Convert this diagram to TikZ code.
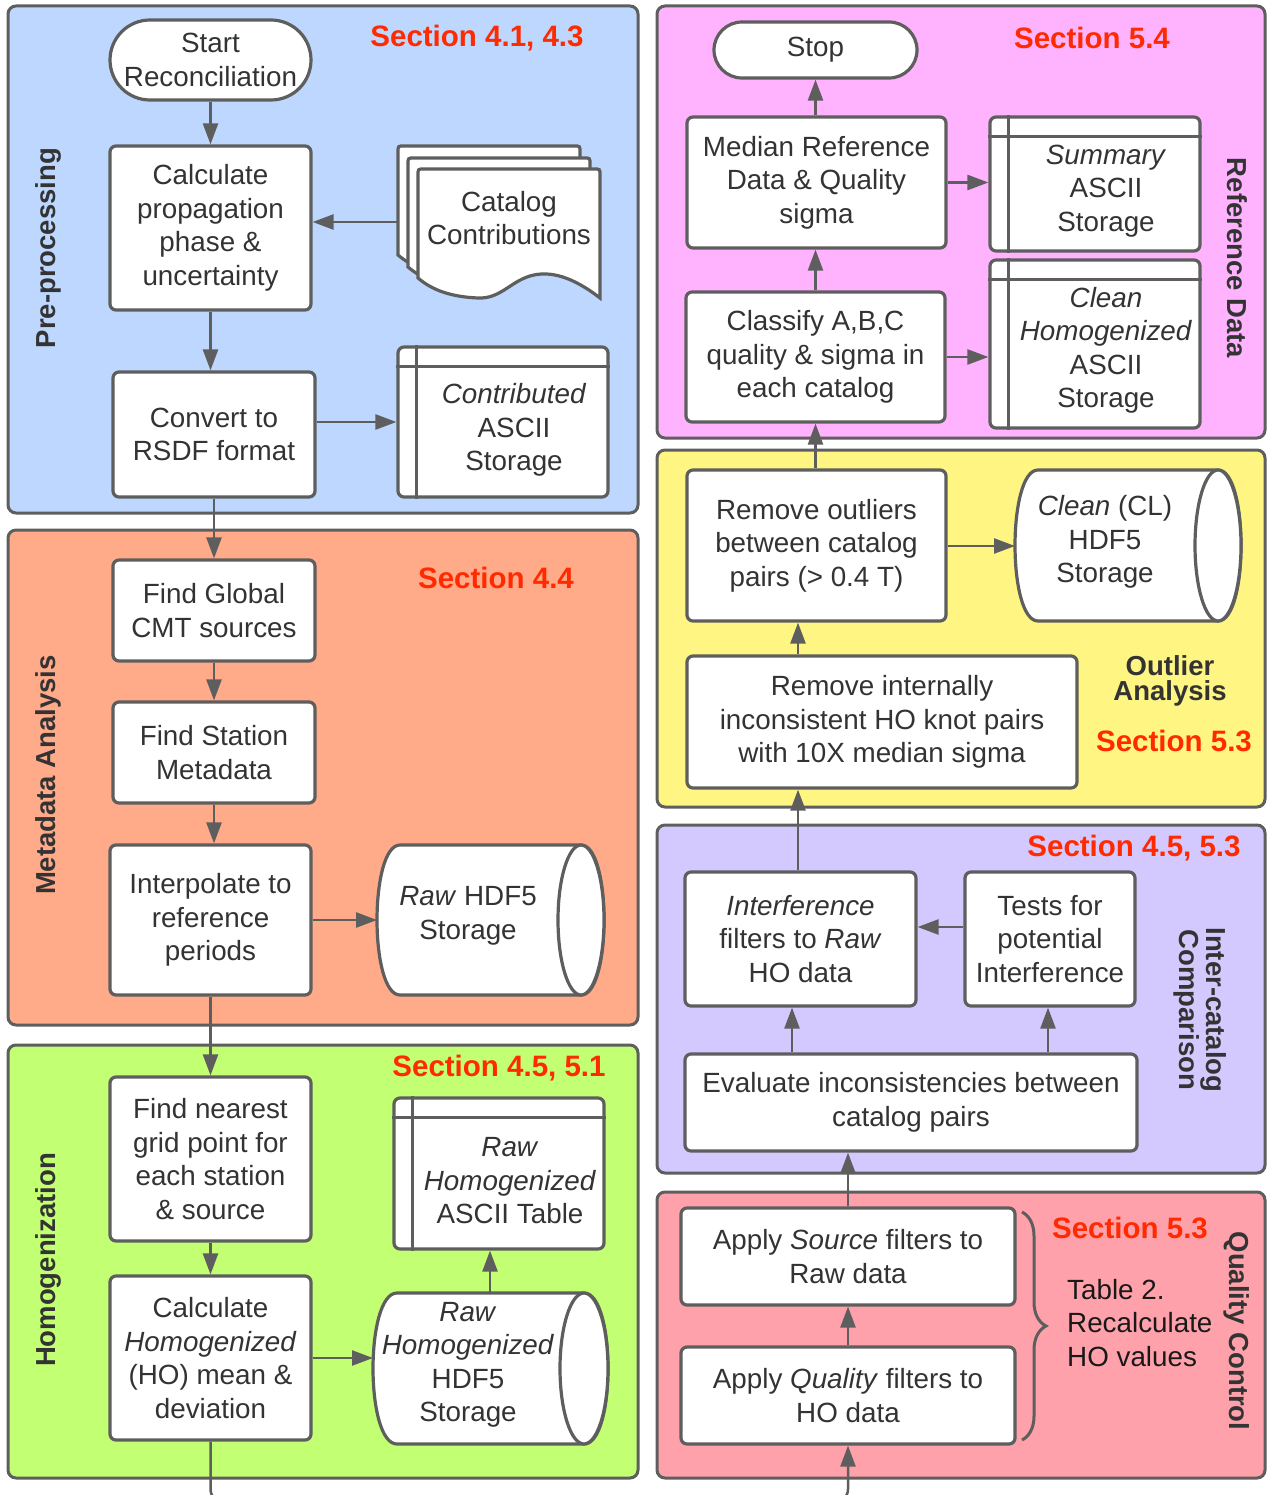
\documentclass[tikz,border=0pt]{standalone}
\usepackage{fontspec}
\setmainfont{Liberation Sans}
\usetikzlibrary{arrows.meta,decorations.pathreplacing}
\definecolor{edge}{HTML}{5E5E5E}
\definecolor{txtc}{HTML}{333333}
\definecolor{secred}{HTML}{FF2A00}
\definecolor{cblue}{HTML}{BDD7FE}
\definecolor{csalmon}{HTML}{FFAA88}
\definecolor{cgreen}{HTML}{C2FF72}
\definecolor{cpink}{HTML}{FFB3FF}
\definecolor{cyellow}{HTML}{FFF582}
\definecolor{clav}{HTML}{D4C9FF}
\definecolor{cqc}{HTML}{FFA1AA}
\newcommand\mainfs{\fontsize{27.8}{33.5}\selectfont}
\newcommand\secfs{\fontsize{29.5}{34}\selectfont\bfseries}
\newcommand\lanefs{\fontsize{27.5}{24.5}\selectfont\bfseries}
\newcommand\catdocshape[2]{%
  \draw[docst] (#1,#2+109) -- (#1,#2+6) .. controls (#1,#2) .. (#1+6,#2)
    -- (#1+176,#2) .. controls (#1+182,#2) .. (#1+182,#2+6) -- (#1+182,#2+129)
    .. controls (#1+155,#2+108) and (#1+132,#2+101) .. (#1+112,#2+107)
    .. controls (#1+92,#2+113) and (#1+82,#2+130) .. (#1+60,#2+129)
    .. controls (#1+35,#2+128) and (#1+15,#2+122) .. (#1,#2+109) -- cycle;}
\newcommand\hcyl[5]{% xl yt xr yb rx
  \draw[docst] (#1+#5,#2) -- (#3-#5,#2)
    .. controls (#3-#5+1.333*#5,#2) and (#3-#5+1.333*#5,#4) .. (#3-#5,#4)
    -- (#1+#5,#4)
    .. controls (#1+#5-1.333*#5,#4) and (#1+#5-1.333*#5,#2) .. (#1+#5,#2) -- cycle;
  \draw[docst] (#3-#5,{(#2+#4)/2}) ellipse [x radius=#5, y radius={(#4-#2)/2}];}
\begin{document}
\begin{tikzpicture}[x=1pt,y=-1pt,
  lane/.style={draw=edge, line width=3pt, rounded corners=8pt},
  proc/.style={draw=edge, line width=3.2pt, fill=white, rounded corners=6pt, align=center,
    text=txtc, font=\mainfs, inner sep=0pt},
  store/.style={draw=edge, line width=3.2pt, fill=white, rounded corners=6pt, inner sep=0pt},
  docst/.style={draw=edge, line width=3.2pt, fill=white},
  txt/.style={align=center, text=txtc, font=\mainfs, inner sep=0pt},
  sec/.style={text=secred, font=\secfs, inner sep=0pt},
  lanelab/.style={text=txtc, font=\lanefs, align=center, inner sep=0pt},
  arr/.style={draw=edge, line width=2.5pt, -{Triangle[length=21pt,width=15pt]}}]
\useasboundingbox (0,0) rectangle (1266,1495);
\fill[white] (0,0) rectangle (1266,1495);

% ---------------- lanes ----------------
\draw[lane, fill=cblue] (8,6) rectangle (638,513);
\draw[lane, fill=csalmon] (8,530) rectangle (638,1025);
\draw[lane, fill=cgreen] (8,1045) rectangle (638,1478);
\draw[lane, fill=cpink] (657,6) rectangle (1265,438);
\draw[lane, fill=cyellow] (657,450) rectangle (1265,807);
\draw[lane, fill=clav] (657,825) rectangle (1265,1173);
\draw[lane, fill=cqc] (657,1192) rectangle (1265,1478);

% helper coordinates
\coordinate (xa) at (798,0);
\coordinate (xb) at (792,0);
\coordinate (xc) at (1048,0);
\coordinate (ya) at (0,927);

% ---------------- Pre-processing ----------------
\node[lanelab, rotate=90] (lpre) at (48,248) {Pre-processing};
\node[sec] (s41) at (477,38) {Section 4.1, 4.3};
\node[proc, minimum width=201pt, minimum height=80pt, rounded corners=40pt] (start) at (210.5,60) {Start\\Reconciliation};
\node[proc, minimum width=201pt, minimum height=164pt] (calc) at (210.5,228) {Calculate\\propagation\\phase \&\\uncertainty};
\node[proc, minimum width=202pt, minimum height=125pt] (convert) at (214,434.5) {Convert to\\RSDF format};
\catdocshape{398}{146}
\catdocshape{408}{158}
\catdocshape{418}{169}
\node[txt] (catT) at (509,218) {Catalog\\Contributions};
\coordinate (catL) at (398,222);
\node[store, minimum width=210pt, minimum height=150pt] (contrib) at (503,422) {};
\draw[edge, line width=3.2pt] ([xshift=20pt]contrib.north west) -- ([xshift=20pt]contrib.south west);
\draw[edge, line width=3.2pt] ([yshift=-21pt]contrib.north west) -- ([yshift=-21pt]contrib.north east);
\node[txt] (contribT) at (514,430) {\textit{Contributed}\\ASCII\\Storage};
\draw[arr] (start.south) -- (calc.north);
\draw[arr] (catL) -- (calc.east |- catL);
\draw[arr] (calc.south) -- (calc.south |- convert.north);
\draw[arr] (convert.east |- contrib.west) -- (contrib.west);

% ---------------- Metadata ----------------
\node[lanelab, rotate=90] (lmeta) at (48,775) {Metadata Analysis};
\node[sec] (s44) at (496,578) {Section 4.4};
\node[proc, minimum width=202pt, minimum height=101pt] (global) at (214,610.5) {Find Global\\CMT sources};
\node[proc, minimum width=202pt, minimum height=101pt] (station) at (214,752.5) {Find Station\\Metadata};
\node[proc, minimum width=201pt, minimum height=150pt] (interp) at (210.5,920) {Interpolate to\\reference\\periods};
\hcyl{377}{845}{604}{995}{23}
\coordinate (rawW) at (377,920);
\node[txt] (rawT) at (468,916) {\textit{Raw} HDF5\\Storage};
\draw[arr] (convert.south) -- (global.north);
\draw[arr] (global.south) -- (station.north);
\draw[arr] (station.south) -- (station.south |- interp.north);
\draw[arr] (interp.east) -- (rawW);

% ---------------- Homogenization ----------------
\node[lanelab, rotate=90] (lhom) at (48,1260) {Homogenization};
\node[sec] (s45a) at (499,1068) {Section 4.5, 5.1};
\node[proc, minimum width=201pt, minimum height=164pt] (near) at (210.5,1159) {Find nearest\\grid point for\\each station\\\& source};
\node[proc, minimum width=201pt, minimum height=164pt] (calcho) at (210.5,1358) {Calculate\\\textit{Homogenized}\\(HO) mean \&\\deviation};
\hcyl{373}{1293}{608}{1444}{24}
\coordinate (rawhoW) at (373,1358);
\coordinate (rawhoN) at (490,1293);
\node[txt] (rawhoT) at (468,1365) {\textit{Raw}\\\textit{Homogenized}\\HDF5\\Storage};
\node[store, minimum width=210pt, minimum height=151pt] (rawtab) at (499,1173.5) {};
\draw[edge, line width=3.2pt] ([xshift=20pt]rawtab.north west) -- ([xshift=20pt]rawtab.south west);
\draw[edge, line width=3.2pt] ([yshift=-21pt]rawtab.north west) -- ([yshift=-21pt]rawtab.north east);
\node[txt] (rawtabT) at (510,1181) {\textit{Raw}\\\textit{Homogenized}\\ASCII Table};
\draw[arr] (interp.south) -- (near.north);
\draw[arr] (near.south) -- (calcho.north);
\draw[arr] (calcho.east) -- (rawhoW);
\draw[arr] (rawhoN) -- (rawhoN |- rawtab.south);

% ---------------- Reference Data ----------------
\node[lanelab, rotate=-90] (lref) at (1237,258) {Reference Data};
\node[sec] (s54) at (1092,38) {Section 5.4};
\node[proc, minimum width=203pt, minimum height=56pt, rounded corners=28pt] (stop) at (815.5,50) {Stop};
\node[proc, minimum width=259pt, minimum height=131pt] (median) at (816.5,182.5) {Median Reference\\Data \& Quality\\sigma};
\node[proc, minimum width=259pt, minimum height=130pt] (classify) at (815.5,357) {Classify A,B,C\\quality \& sigma in\\each catalog};
\node[store, minimum width=210pt, minimum height=134pt] (summary) at (1095,184) {};
\draw[edge, line width=3.2pt] ([xshift=20pt]summary.north west) -- ([xshift=20pt]summary.south west);
\draw[edge, line width=3.2pt] ([yshift=-21pt]summary.north west) -- ([yshift=-21pt]summary.north east);
\node[txt] (summaryT) at (1106,191) {\textit{Summary}\\ASCII\\Storage};
\node[store, minimum width=210pt, minimum height=168pt] (cleanho) at (1095,344) {};
\draw[edge, line width=3.2pt] ([xshift=20pt]cleanho.north west) -- ([xshift=20pt]cleanho.south west);
\draw[edge, line width=3.2pt] ([yshift=-21pt]cleanho.north west) -- ([yshift=-21pt]cleanho.north east);
\node[txt] (cleanhoT) at (1106,350.5) {\textit{Clean}\\\textit{Homogenized}\\ASCII\\Storage};
\draw[arr] (median.north -| stop.south) -- (stop.south);
\draw[arr] (median.east) -- (summary.west |- median.east);
\draw[arr] (classify.north) -- (classify.north |- median.south);
\draw[arr] (classify.east) -- (cleanho.west |- classify.east);

% ---------------- Outlier Analysis ----------------
\node[lanelab] (lout) at (1170,681) {Outlier\\Analysis};
\node[sec] (s53a) at (1174,741) {Section 5.3};
\node[proc, minimum width=259pt, minimum height=151pt] (rmout) at (816.5,545.5) {Remove outliers\\between catalog\\pairs (> 0.4 T)};
\hcyl{1015}{470}{1241}{621}{23}
\coordinate (clW) at (1015,546);
\node[txt] (clT) at (1105,542) {\textit{Clean} (CL)\\HDF5\\Storage};
\node[proc, minimum width=390pt, minimum height=132pt] (rmint) at (882,722) {Remove internally\\inconsistent HO knot pairs\\with 10X median sigma};
\draw[arr] (rmout.north -| classify.south) -- (classify.south);
\draw[arr] (rmout.east |- clW) -- (clW);
\draw[arr] (rmint.north -| xa) -- (rmout.south -| xa);

% ---------------- Inter-catalog ----------------
\node[lanelab, rotate=-90] (linter) at (1200,1010) {Inter-catalog\\Comparison};
\node[sec] (s45b) at (1134,848) {Section 4.5, 5.3};
\node[proc, minimum width=231pt, minimum height=134pt] (interf) at (800.5,939) {\textit{Interference}\\filters to \textit{Raw}\\HO data};
\node[proc, minimum width=170pt, minimum height=134pt] (tests) at (1050,939) {Tests for\\potential\\Interference};
\node[proc, minimum width=452pt, minimum height=97pt] (evaluate) at (911,1102.5) {Evaluate inconsistencies between\\catalog pairs};
\draw[arr] (interf.north -| xa) -- (rmint.south -| xa);
\draw[arr] (tests.west |- ya) -- (interf.east |- ya);
\draw[arr] (evaluate.north -| xb) -- (interf.south -| xb);
\draw[arr] (evaluate.north -| xc) -- (tests.south -| xc);

% ---------------- Quality Control ----------------
\node[lanelab, rotate=-90] (lqc) at (1237,1331) {Quality Control};
\node[sec] (s53b) at (1130,1228) {Section 5.3};
\node[proc, minimum width=334pt, minimum height=97pt] (source) at (848,1256.5) {Apply \textit{Source} filters to\\Raw data};
\node[proc, minimum width=334pt, minimum height=97pt] (qual) at (848,1395.5) {Apply \textit{Quality} filters to\\HO data};
\coordinate (brT) at (1022,1212);
\coordinate (brB) at (1022,1440);
\draw[edge, line width=3pt, decorate, decoration={brace, amplitude=24pt}] (brT) -- (brB);
\node[align=left, anchor=west, text={black!90}, font=\mainfs, inner sep=0pt] (tab2) at (1067,1323) {Table 2.\\Recalculate\\HO values};
\draw[arr] (source.north) -- (source.north |- evaluate.south);
\draw[arr] (qual.north) -- (source.south);

% loop from homogenization to quality control (below the page)
\coordinate (loopL) at (210.5,1503);
\coordinate (loopR) at (848,1503);
\draw[arr, rounded corners=14pt] (calcho.south) -- (loopL) -- (loopR) -- (qual.south);
\end{tikzpicture}
\end{document}
